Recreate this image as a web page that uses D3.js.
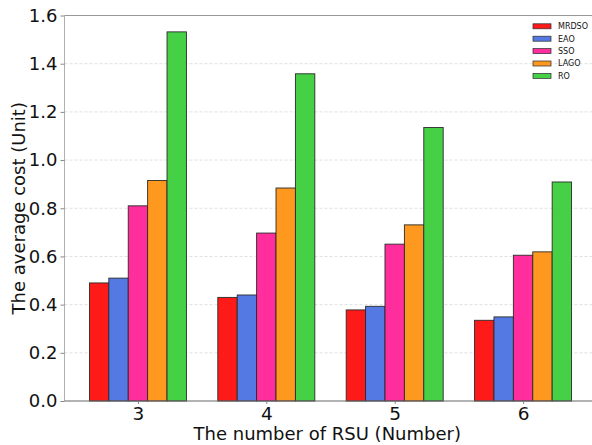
<!DOCTYPE html>
<html>
<head>
<meta charset="utf-8">
<script src="https://cdn.jsdelivr.net/npm/d3@7"></script>
<style>
  html, body { margin: 0; padding: 0; background: #fff; }
  svg { display: block; font-family: "DejaVu Sans", sans-serif; }
</style>
</head>
<body>
<svg id="chart" width="592" height="445"></svg>
<script>
// Number of RSUs on the x axis
const categories = ["3", "4", "5", "6"];
// Algorithms compared in each group
const seriesNames = ["MRDSO", "EAO", "SSO", "LAGO", "RO"];
// Average cost per algorithm, one value per RSU count
const MRDSO = [0.49, 0.43, 0.378, 0.335];
const EAO   = [0.51, 0.44, 0.393, 0.349];
const SSO   = [0.81, 0.697, 0.651, 0.605];
const LAGO  = [0.915, 0.884, 0.731, 0.619];
const RO    = [1.532, 1.358, 1.135, 0.909];
const yTicks = [0.0, 0.2, 0.4, 0.6, 0.8, 1.0, 1.2, 1.4, 1.6];
const colors = ["#ff1a1a", "#5479e2", "#ff2e9c", "#ff981e", "#46d046"];

const seriesValues = [MRDSO, EAO, SSO, LAGO, RO];

const svg = d3.select("#chart");
const plotLeft = 64.5, plotTop = 15.5, plotBottom = 401, plotRight = 596.5;

const x = d3.scalePoint().domain(categories).range([plotLeft, plotRight]).padding(0.572);
const groupWidth = 97;
const xSub = d3.scaleBand().domain(seriesNames).range([-groupWidth / 2, groupWidth / 2]);
const y = d3.scaleLinear().domain([0, 1.6]).range([plotBottom, plotTop]);

// horizontal dashed grid
svg.append("g").selectAll("line").data(yTicks.slice(1)).join("line")
  .attr("x1", plotLeft).attr("x2", 592)
  .attr("y1", d => y(d)).attr("y2", d => y(d))
  .attr("stroke", "#d8d8d8").attr("stroke-width", 0.8)
  .attr("stroke-dasharray", "3,2");

// bars
const groups = svg.append("g").selectAll("g").data(categories).join("g")
  .attr("transform", c => `translate(${x(c)},0)`);
groups.selectAll("rect")
  .data((c, i) => seriesNames.map((s, k) => ({ s, k, v: seriesValues[k][i] })))
  .join("rect")
  .attr("x", d => xSub(d.s))
  .attr("width", xSub.bandwidth())
  .attr("y", d => y(d.v))
  .attr("height", d => y(0) - y(d.v))
  .attr("fill", d => colors[d.k])
  .attr("stroke", "#2a2a2a").attr("stroke-width", 0.9);

// frame
svg.append("line").attr("x1", plotLeft).attr("x2", 592).attr("y1", plotTop).attr("y2", plotTop)
  .attr("stroke", "#999").attr("stroke-width", 1);
svg.append("line").attr("x1", plotLeft).attr("x2", plotLeft).attr("y1", plotTop).attr("y2", plotBottom)
  .attr("stroke", "#b0b0b0").attr("stroke-width", 1);

// y axis
const yAxis = svg.append("g").attr("transform", `translate(${plotLeft},0)`)
  .call(d3.axisLeft(y).tickValues(yTicks).tickFormat(d3.format(".1f")).tickSize(4).tickPadding(3));
yAxis.select(".domain").remove();
yAxis.selectAll(".tick line").attr("stroke", "#888");
yAxis.selectAll("text").attr("font-size", 18).attr("fill", "#111")
  .attr("font-family", "DejaVu Sans");

// x axis
const xAxis = svg.append("g").attr("transform", `translate(0,${plotBottom})`)
  .call(d3.axisBottom(x).tickSize(3).tickPadding(3));
xAxis.select(".domain").remove();
xAxis.selectAll(".tick line").attr("stroke", "#888");
xAxis.selectAll("text").attr("font-size", 18.5).attr("fill", "#111")
  .attr("font-family", "DejaVu Sans");
svg.append("line").attr("x1", plotLeft).attr("x2", 592).attr("y1", plotBottom).attr("y2", plotBottom)
  .attr("stroke", "#666").attr("stroke-width", 1.2);

// axis titles
svg.append("text").attr("x", (plotLeft + 592) / 2 - 1).attr("y", 440)
  .attr("text-anchor", "middle").attr("font-size", 18).attr("fill", "#111")
  .text("The number of RSU (Number)");
svg.append("text").attr("transform", `translate(25,${(plotTop + plotBottom) / 2}) rotate(-90)`)
  .attr("text-anchor", "middle").attr("font-size", 18).attr("fill", "#111")
  .text("The average cost (Unit)");

// legend
const legend = svg.append("g").selectAll("g").data(seriesNames).join("g")
  .attr("transform", (d, i) => `translate(533,${26.3 + i * 12.4})`);
legend.append("rect").attr("x", 0).attr("y", -2.5).attr("width", 18).attr("height", 5)
  .attr("fill", (d, i) => colors[i]).attr("stroke", "#2a2a2a").attr("stroke-width", 0.7);
legend.append("text").attr("x", 25).attr("y", 0).attr("dy", "0.35em")
  .attr("font-size", 8).attr("fill", "#111").text(d => d);
</script>
</body>
</html>
